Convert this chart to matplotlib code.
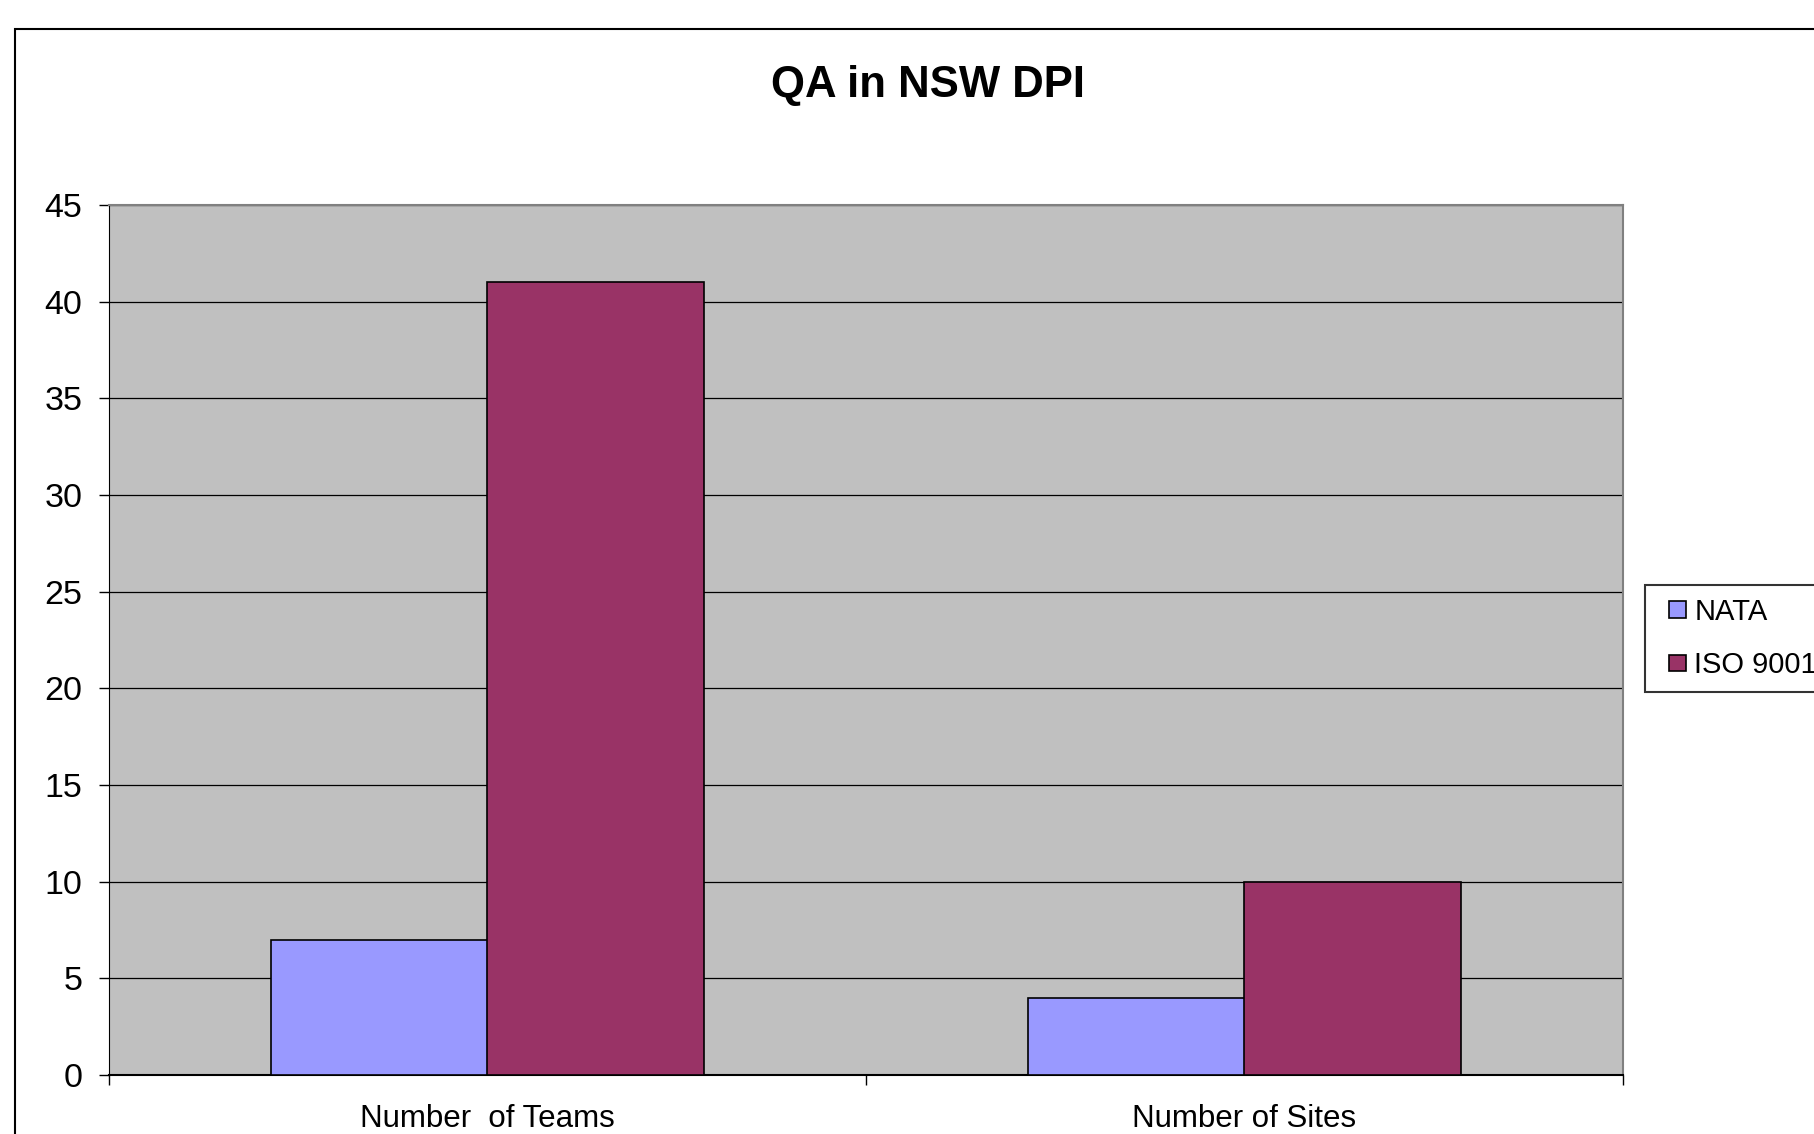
import matplotlib.pyplot as plt
import numpy as np
from matplotlib.patches import Rectangle
from matplotlib.container import BarContainer
from matplotlib.legend_handler import HandlerPatch

categories = ["Number  of Teams", "Number of Sites"]
series_names = ["NATA", "ISO 9001"]
nata = [7, 4]
iso = [41, 10]
y_ticks = [0, 5, 10, 15, 20, 25, 30, 35, 40, 45]

plt.rcParams['font.family'] = ['Liberation Sans', 'DejaVu Sans']


def square_handle(legend, orig_handle, xdescent, ydescent, width, height, fontsize):
    # small square pushed to the right end of the handle box
    size = 0.58 * fontsize
    return Rectangle((width - size - xdescent, (height - size) / 2 - ydescent), size, size)


def copy_bar_style(legend_handle, orig_handle):
    legend_handle.update_from(orig_handle.patches[0])


fig = plt.figure(figsize=(18.14, 11.34), dpi=100)

# outer chart frame, runs past the right and bottom edge like the original
fig.patches.append(Rectangle((15 / 1814, -0.2), 1.5, 1.2 - 29 / 1134,
                             transform=fig.transFigure, fill=False,
                             edgecolor="black", linewidth=1.5))

ax = fig.add_axes([109 / 1814, 1 - 1075 / 1134, 1514 / 1814, 870 / 1134])
ax.set_facecolor("#C0C0C0")

x = np.arange(len(categories))
width = 0.2857
ax.bar(x - width / 2, nata, width, color="#9999FF", edgecolor="black",
       linewidth=1.2, label=series_names[0], zorder=3)
ax.bar(x + width / 2, iso, width, color="#993366", edgecolor="black",
       linewidth=1.2, label=series_names[1], zorder=3)

ax.set_xlim(-0.5, len(categories) - 0.5)
ax.set_ylim(0, 45)
ax.set_yticks(y_ticks)
ax.yaxis.grid(True, color="black", linewidth=0.9, zorder=1)
ax.set_axisbelow(True)

# category ticks sit between groups, labels at group centres
ax.set_xticks(np.arange(len(categories) + 1) - 0.5)
ax.set_xticklabels([])
ax.set_xticks(x, minor=True)
ax.set_xticklabels(categories, minor=True)
ax.tick_params(axis="x", which="major", direction="out", length=7, width=1)
ax.tick_params(axis="x", which="minor", length=0, pad=21, labelsize=22.5)
ax.tick_params(axis="y", direction="out", length=7, width=1, pad=12, labelsize=24.5)

for side in ["top", "right"]:
    ax.spines[side].set_color("#808080")
    ax.spines[side].set_linewidth(1.5)
ax.spines["left"].set_color("black")
ax.spines["bottom"].set_color("black")
ax.spines["bottom"].set_linewidth(1.5)

fig.text(928 / 1814, 1 - 85 / 1134, "QA in NSW DPI", ha="center", va="center",
         fontsize=31.5, fontweight="bold")

leg = fig.legend(loc="upper left", bbox_to_anchor=(1645 / 1814, 1 - 585 / 1134),
                 fontsize=21, frameon=True, fancybox=False, edgecolor="black",
                 handlelength=0.96, handleheight=0.7, handletextpad=0.28,
                 borderpad=0.45, labelspacing=0.86, borderaxespad=0,
                 handler_map={BarContainer: HandlerPatch(patch_func=square_handle,
                                                         update_func=copy_bar_style)})
leg.get_frame().set_linewidth(1.5)

plt.savefig("out.png", dpi=100)
